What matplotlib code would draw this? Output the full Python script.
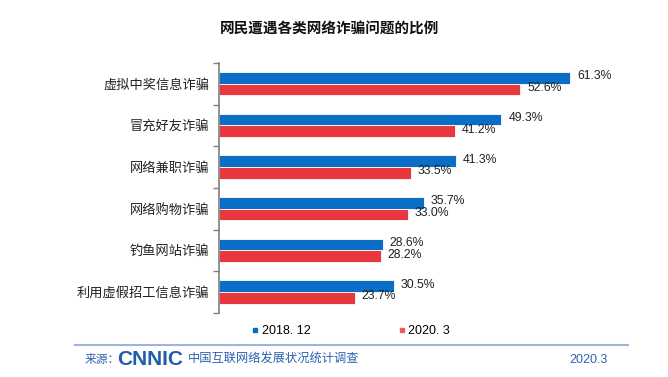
import numpy as np
import matplotlib
matplotlib.use("Agg")
import matplotlib.pyplot as plt
from matplotlib.lines import Line2D

plt.rcParams['font.family'] = ['Liberation Sans', 'Noto Sans CJK SC', 'DejaVu Sans']

categories = ['虚拟中奖信息诈骗', '冒充好友诈骗', '网络兼职诈骗',
              '网络购物诈骗', '钓鱼网站诈骗', '利用虚假招工信息诈骗']
vals_2018 = [61.3, 49.3, 41.3, 35.7, 28.6, 30.5]
vals_2020 = [52.6, 41.2, 33.5, 33.0, 28.2, 23.7]
series_names = ['2018. 12', '2020. 3']

blue = '#0A6DC6'
red = '#E8383D'

fig = plt.figure(figsize=(6.68, 3.77), dpi=100)
ax = fig.add_axes([0.328, 0.170, 0.600, 0.663])

y = np.arange(len(categories))
h = 0.28
b1 = ax.barh(y - h / 2, vals_2018, height=h, color=blue, edgecolor='white', linewidth=0.6)
b2 = ax.barh(y + h / 2, vals_2020, height=h, color=red, edgecolor='white', linewidth=0.6)

# value labels just right of each bar
for bars, vals in ((b1, vals_2018), (b2, vals_2020)):
    for rect, v in zip(bars, vals):
        ax.text(v + 1.2, rect.get_y() + rect.get_height() / 2 - 0.04, f'{v:.1f}%',
                va='center', ha='left', fontsize=8.8, color='#222222')

ax.set_xlim(0, 70)
ax.set_ylim(len(categories) - 0.5, -0.5)
ax.set_yticks(y)
ax.set_yticklabels(categories, fontsize=9.5, color='#222222')
ax.tick_params(axis='y', which='major', length=0, pad=7)
ax.set_yticks(np.arange(-0.5, len(categories), 1), minor=True)
ax.tick_params(axis='y', which='minor', length=4, color='#808080', width=1)
ax.set_xticks([])
for s in ('top', 'right', 'bottom'):
    ax.spines[s].set_visible(False)
ax.spines['left'].set_color('#808080')
ax.spines['left'].set_linewidth(1.2)

fig.text(0.493, 0.923, '网民遭遇各类网络诈骗问题的比例', ha='center', va='center',
         fontsize=10.5, fontweight='bold', color='#111111')

handles = [Line2D([], [], marker='s', linestyle='none', markersize=3.5, color=blue),
           Line2D([], [], marker='s', linestyle='none', markersize=3.5, color='#F05A5A')]
fig.legend(handles, series_names, loc='center', bbox_to_anchor=(0.525, 0.122),
           ncol=2, frameon=False, fontsize=9, handlelength=0.6, handletextpad=0.2,
           columnspacing=7.0)

# footer
fig.add_artist(Line2D([0.112, 0.940], [0.085, 0.085], transform=fig.transFigure,
                      color='#9DB5DD', linewidth=1.5))
foot = '#2F63B0'
fig.text(0.126, 0.045, '来源：', ha='left', va='center', fontsize=8.5, color=foot)
fig.text(0.175, 0.047, 'CNNIC', ha='left', va='center', fontsize=15,
         fontweight='bold', color='#1F5CAA')
fig.text(0.281, 0.045, '中国互联网络发展状况统计调查', ha='left', va='center',
         fontsize=8.8, color=foot)
fig.text(0.852, 0.045, '2020.3', ha='left', va='center', fontsize=9, color=foot)

fig.savefig('out.png', dpi=100)
